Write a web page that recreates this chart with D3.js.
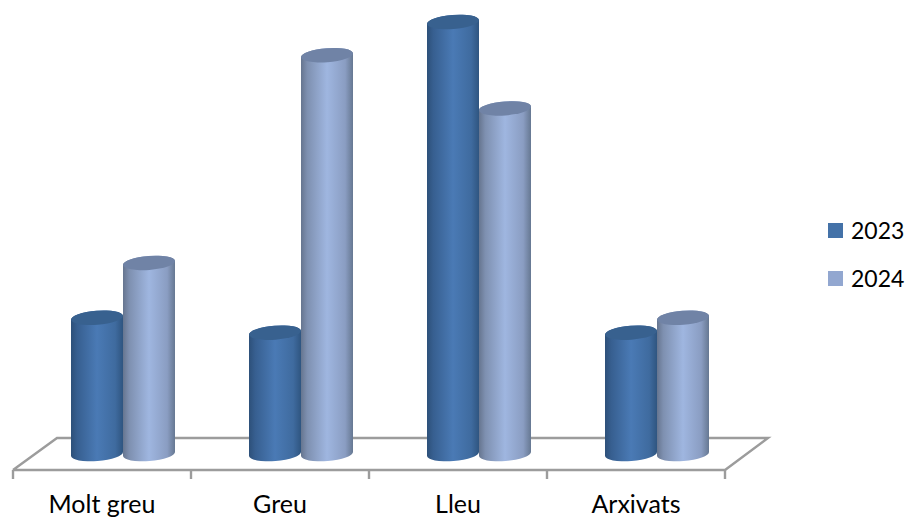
<!DOCTYPE html>
<html><head><meta charset="utf-8">
<script src="https://cdn.jsdelivr.net/npm/d3@7"></script>
<style>html,body{margin:0;padding:0;background:#fff}svg{display:block}text{font-family:Lato,sans-serif;fill:#000}</style>
</head><body><svg id="c" width="908" height="520"></svg>
<script>
const categories = ["Molt greu","Greu","Lleu","Arxivats"];
const seriesNames = ["2023","2024"];
const values2023 = [8.2,7.3,26,7.3];
const values2024 = [11.5,24,20.8,8.2];
const yTicks = [0,26];

const svg = d3.select("#c");
const frontY = 470, backY = 438, baseY = 454, rx = 26, ry = 7, tilt = -4.5;
const x0 = d3.scaleBand().domain(categories).range([13,725]);
const x1 = d3.scaleBand().domain(seriesNames).range([58,162]);
const y = d3.scaleLinear().domain(yTicks).range([baseY,22]);

const defs = svg.append("defs");
const palettes = {
  "2023": {id:"g23", top:"#38618f", legend:"#4472a8", stops:[[0,"#2d5079"],[.12,"#375f90"],[.5,"#4a7ab5"],[.85,"#3f6b9f"],[1,"#2f5580"]]},
  "2024": {id:"g24", top:"#7083a6", legend:"#92a7d0", stops:[[0,"#66758f"],[.12,"#7e90b0"],[.5,"#9fb6e0"],[.85,"#8a9dc2"],[1,"#667892"]]}
};
seriesNames.forEach(s=>{
  const p = palettes[s];
  const g = defs.append("linearGradient").attr("id",p.id).attr("x1",0).attr("x2",1).attr("y1",0).attr("y2",0);
  p.stops.forEach(st=>g.append("stop").attr("offset",st[0]).attr("stop-color",st[1]));
});

// floor
const floor = d3.line();
const edge = x0.range();
svg.append("path").attr("fill","none").attr("stroke","#9c9c9c").attr("stroke-width",2.4)
  .attr("d",floor([[edge[0],frontY],[edge[0]+44,backY],[edge[1]+43,backY],[edge[1],frontY],[edge[0],frontY]]));
// ticks
const tickPos = categories.map(c=>x0(c)).concat([edge[1]]);
svg.selectAll("line.t").data(tickPos).join("line").attr("class","t")
  .attr("x1",d=>d).attr("x2",d=>d).attr("y1",frontY).attr("y2",479)
  .attr("stroke","#9c9c9c").attr("stroke-width",2.4);
// category labels
svg.selectAll("text.cat").data(categories).join("text").attr("class","cat")
  .attr("x",c=>x0(c)+x0.bandwidth()/2).attr("y",513).attr("text-anchor","middle")
  .attr("font-size",25).text(c=>c);

// cylinders
const rows = categories.flatMap((c,i)=>[
  {c,s:"2023",v:values2023[i]},{c,s:"2024",v:values2024[i]}
]);
const cyl = svg.selectAll("g.cyl").data(rows).join("g").attr("class","cyl");
const cx = d=>x0(d.c)+x1(d.s)+x1.bandwidth()/2;
const dy = Math.sin(-tilt*Math.PI/180)*rx;
cyl.append("path").attr("fill",d=>`url(#${palettes[d.s].id})`)
  .attr("d",d=>{
    const a=cx(d), t=y(d.v);
    return `M${a-rx},${t+dy}L${a-rx},${baseY+dy}A${rx},${ry} ${tilt} 0 0 ${a+rx},${baseY-dy}L${a+rx},${t-dy}A${rx},${ry} ${tilt} 0 0 ${a-rx},${t+dy}Z`;
  });
cyl.append("ellipse").attr("rx",rx).attr("ry",ry)
  .attr("transform",d=>`translate(${cx(d)},${y(d.v)}) rotate(${tilt})`)
  .attr("fill",d=>palettes[d.s].top);

// legend
const legend = svg.selectAll("g.leg").data(seriesNames).join("g").attr("class","leg")
  .attr("transform",(d,i)=>`translate(828,${223+i*48})`);
legend.append("rect").attr("width",15).attr("height",15).attr("fill",d=>palettes[d].legend);
legend.append("text").attr("x",23).attr("y",16).attr("font-size",23).text(d=>d);
</script></body></html>
